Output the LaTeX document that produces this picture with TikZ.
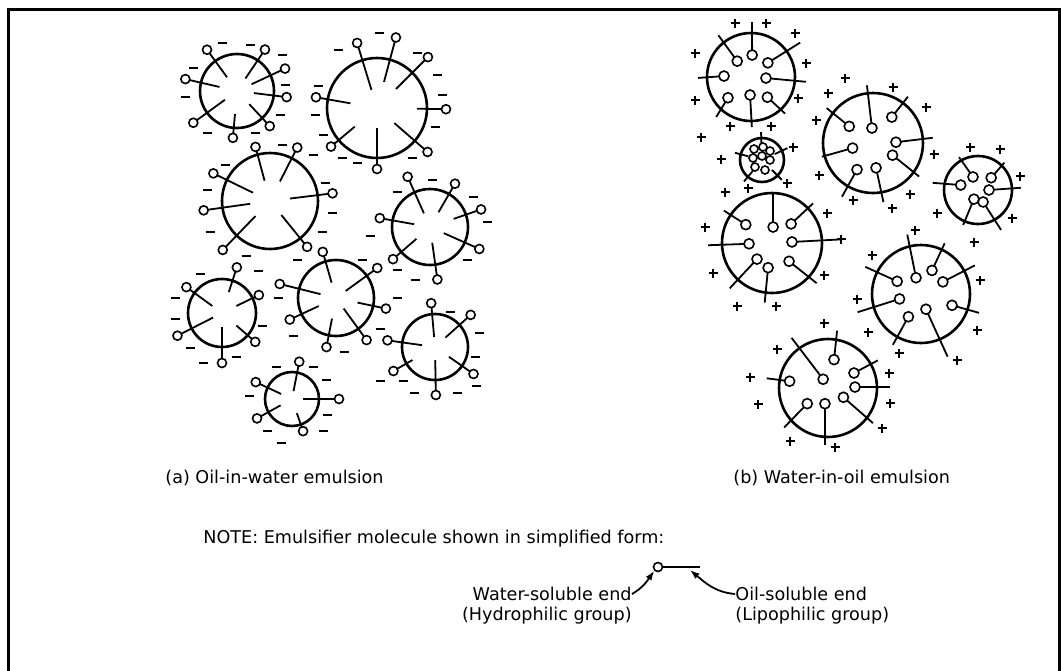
\documentclass[tikz,border=0pt]{standalone}
\usepackage{fontspec}
\setmainfont{DejaVu Sans}
\usetikzlibrary{arrows.meta}
\tikzset{%
  >={Latex[width=1.2mm,length=1.7mm]},
  border/.style = {line width=1.5pt},
     rim/.style = {line width=1.3pt},
    tail/.style = {line width=0.9pt},
    head/.style = {line width=0.8pt, fill=white},
    knob/.style = {head, circle, draw, inner sep=0pt, minimum size=4.5pt},
    sign/.style = {line width=1pt},
     txt/.style = {font=\fontsize{8.8}{11}\selectfont, inner sep=0pt},
}
% oil droplet: molecules with heads outside
\newcommand\oildrop[3]{%
  \begin{scope}[shift={#1}]
    \draw[rim] (0,0) circle (#2);
    \foreach \a/\ri/\ro in {#3} {
      \draw[tail] (\a:\ri) -- (\a:\ro);
      \draw[head] (\a:\ro) circle (4.5);
    }
  \end{scope}}
% water droplet: heads inside, tails out through the rim
\newcommand\waterdrop[3]{%
  \begin{scope}[shift={#1}]
    \draw[rim] (0,0) circle (#2);
    \foreach \ah/\rh/\ao/\ro in {#3} {
      \draw[tail] (\ah:\rh) -- (\ao:\ro);
      \draw[head] (\ah:\rh) circle (5);
    }
  \end{scope}}

\begin{document}
\begin{tikzpicture}[x=0.5pt, y=-0.5pt]
  \useasboundingbox (0,0) rectangle (1061,670);
  \draw[border] (8,675) -- (8,9) -- (1059,9) -- (1059,675);

  % (a) oil in water
  \oildrop{(237,91)}{37}{234/17/51, 304/15/50, 335/16/53, 7/17/50, 47/18/48, 95/23/47, 144/15/54, 193/18/53}
  \oildrop{(377,108)}{50}{253/19/68, 285/27/73, 315/27/72, 1/40/69, 41/23/67, 90/20/61, 140/29/60, 190/27/62}
  \oildrop{(270,201)}{48}{255/21/56, 297/22/60, 353/20/63, 206/19/63, 172/20/67, 134/21/68, 51/18/59}
  \oildrop{(430,227)}{38}{246/15/55, 300/17/50, 341/25/54, 190/16/51, 139/18/49, 82/16/53, 24/15/54}
  \oildrop{(222,313)}{34}{288/22/48, 334/16/41, 41/19/44, 90/14/50, 153/10/50, 216/12/44}
  \oildrop{(336,298)}{38}{254/16/48, 324/12/51, 12/22/51, 54/13/52, 101/21/50, 155/19/51, 194/16/58}
  \oildrop{(435,347)}{33}{265/10/44, 318/14/48, 35/17/47, 89/13/48, 150/26/48, 188/13/48}
  \oildrop{(292,399)}{27}{281/8/38, 0/11/47, 71/15/34, 151/13/40, 205/12/40}

  \foreach \p in {(222,43),(250,45),(282,55),(193,68),(185,97),(285,85),(280,115),(207,133),(255,133),
                  (379,33),(338,50),(417,53),(437,75),(442,95),(318,86),(315,115),(435,127),(323,135),
                  (342,158),(357,163),(412,158),(282,145),(313,155),(225,165),(207,190),(325,183),
                  (332,213),(210,232),(322,232),(397,192),(432,180),(473,197),(487,222),(370,236),
                  (246,256),(297,260),(415,280),(467,260),(397,270),(258,271),(200,274),(175,298),
                  (175,319),(262,326),(190,348),(203,363),(236,357),(362,260),(397,298),(278,298),
                  (293,336),(380,329),(344,352),(450,312),(479,333),(475,357),(380,381),(403,381),
                  (476,386),(414,393),(457,393),(276,367),(313,367),(326,380),(249,396),(327,415),
                  (267,431),(323,431),(281,443)}
    \draw[sign] \p ++(-4.5,0) -- ++(9,0);

  % (b) water in oil
  \waterdrop{(751,77)}{44}{229/21/232/53, 273/22/271/55, 320/22/325/60, 182/27/179/53, 4/15/5/55, 138/31/131/53, 93/18/89/50, 51/26/47/50}
  \waterdrop{(873,143)}{50}{215/29/217/58, 266/15/264/58, 306/32/307/58, 358/23/355/60, 166/21/165/53, 32/23/36/57, 121/31/120/62, 83/25/80/60}
  \waterdrop{(978,190)}{34}{249/14/240/38, 317/18/314/38, 196/18/189/46, 0/11/357/43, 114/10/113/38, 67/13/60/46}
  \waterdrop{(772,243)}{50}{215/32/214/58, 274/16/271/50, 315/27/316/57, 178/23/178/64, 357/20/357/71, 133/22/133/62, 99/25/97/60, 47/25/42/60}
  \waterdrop{(921,294)}{49}{208/27/206/62, 253/17/257/61, 295/26/295/56, 331/25/332/61, 167/22/164/66, 20/33/18/61, 119/26/119/58, 72/16/67/68}
  \waterdrop{(828,388)}{49}{282/29/279/58, 241/10/234/62, 330/30/331/57, 358/27/359/62, 190/39/189/62, 143/26/138/59, 101/16/93/57, 31/18/38/57}

  % tiny droplet packed with heads
  \begin{scope}[shift={(762,160)}]
    \draw[rim] (0,0) circle (22);
    \foreach \a in {195,268,335,45,130}
      \draw[tail] (\a:14) -- (\a:28);
    \foreach \p in {(-8,-11),(1,-13),(8,-9),(-9,-2),(0,-4),(8,0),(-7,7),(3,10)}
      \draw[head] \p circle (4);
  \end{scope}

  \foreach \p in {(735,23),(766,23),(795,33),(695,53),(806,63),(695,100),(798,98),(730,126),(771,126),
                  (701,137),(721,159),(793,147),(845,78),(828,93),(893,87),(926,107),(816,120),
                  (934,154),(819,175),(853,200),(910,194),(892,208),(970,147),(1000,149),(1020,176),
                  (937,213),(1012,218),(725,192),(748,188),(787,183),(705,227),(827,213),(915,230),
                  (841,239),(713,273),(824,275),(737,306),(776,306),(974,242),(872,255),(980,280),
                  (857,299),(868,332),(977,330),(899,353),(957,360),(824,323),(777,349),(750,377),
                  (889,373),(758,404),(890,403),(882,428),(790,441),(835,447)}
    \draw[sign] \p ++(-4.5,0) -- ++(9,0) \p ++(0,-4.5) -- ++(0,9);

  \node[txt, anchor=west] (capA) at (165,478) {(a) Oil-in-water emulsion};
  \node[txt, anchor=west] (capB) at (733,478) {(b) Water-in-oil emulsion};
  \node[txt, anchor=west] (note) at (203,539) {NOTE: Emulsifier molecule shown in simplified form:};

  % sample molecule
  \node[knob] (hd) at (658,567) {};
  \coordinate (tl) at (700,567);
  \coordinate (oilpt) at (690,570);
  \draw[tail] (hd) -- (tl);

  \node[txt, anchor=east] (wsend) at (632,594) {Water-soluble end};
  \node[txt, anchor=east] (hydro) at (632,616) {(Hydrophilic group)};
  \node[txt, anchor=west] (osend) at (735,594) {Oil-soluble end};
  \node[txt, anchor=west] (lipo)  at (735,616) {(Lipophilic group)};

  \draw[->, tail] (wsend.east) to[out=30, in=235] (hd.south west);
  \draw[->, tail] (osend.west) to[out=175, in=-40] (oilpt);
\end{tikzpicture}
\end{document}
